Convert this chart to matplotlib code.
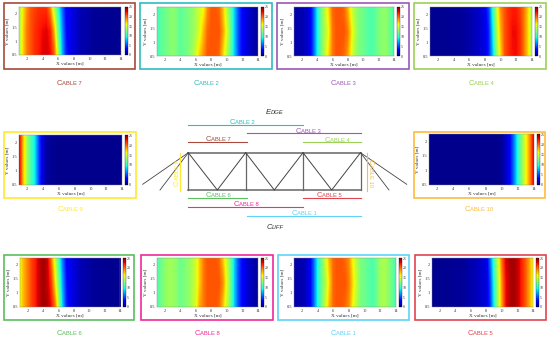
import matplotlib
matplotlib.use("Agg")
import numpy as np
import matplotlib.pyplot as plt

W, H = 550, 339

# measurement stations along the bridge [m]
x_stations = [1, 1.5, 2, 2.5, 3, 3.5, 4, 4.5, 5, 5.5, 6, 6.5, 7, 7.5, 8, 8.5, 9, 9.5, 10, 10.5, 11, 11.5, 12, 12.5, 13, 13.5, 14]
y_stations = [0.5, 1.375, 2.25]

# each cable: rows for y = 0.5, 1.375, 2.25
cable7 = [[13, 17, 19.5, 20.5, 21.5, 22, 22.8, 23, 22.5, 20.5, 14, 8, 4, 2.5, 2, 1.5, 1, 1, .8, .6, .5, .5, .4, .4, .4, .4, .4],
          [13, 17, 19.5, 20.5, 21.5, 22, 22.5, 22.8, 22, 18, 12, 7, 3.5, 2.5, 2, 1.5, 1, 1, .8, .6, .5, .5, .4, .4, .4, .4, .4],
          [13, 16.5, 19, 20.5, 21, 21.5, 21.5, 21.5, 19, 14, 10, 6, 3, 2.5, 2, 1.5, 1, 1, .8, .6, .5, .5, .4, .4, .4, .4, .4]]
cable2 = [[10.5, 11.5, 12, 12.5, 13, 12.5, 11.5, 12, 12.5, 13.5, 15, 17.5, 19, 20.5, 20.5, 20.5, 20, 17, 14, 11.5, 8, 5, 3, 2, 1.5, 1, .5],
          [10.5, 11.5, 12, 12.5, 13, 12.5, 11.5, 12, 12.5, 13, 14, 15.5, 18, 20, 20.5, 20.5, 20.5, 18.5, 15.5, 12, 8, 5, 3, 2, 1.5, 1, .5],
          [10.5, 11.5, 12, 12.5, 13, 12.5, 11.5, 12, 12.5, 13, 14, 15, 16, 19, 20.5, 20.5, 20, 17.5, 14, 11.5, 8, 5, 3, 2, 1.5, 1, .5]]
cable3 = [[1, 1, 1, 1.5, 2, 5, 9, 12, 14.5, 17, 19.5, 20.5, 20.5, 20, 18.5, 15.5, 13.5, 12.5, 12, 11.5, 11, 11.5, 12.5, 13, 13, 12, 10.5],
          [1, 1, 1, 1.5, 2, 5, 9, 12, 14, 16, 19.5, 20.5, 20.5, 20.5, 19.5, 16.5, 14, 12.5, 12, 11.5, 11, 11.5, 12.5, 13, 13, 12, 10.5],
          [1, 1, 1, 1.5, 2, 5, 9, 12, 14.5, 17, 20, 20.5, 20.5, 20, 18, 15, 13.5, 12.5, 12, 11.5, 11, 11.5, 12.5, 13, 13, 12, 10.5]]
cable4 = [[.4, .4, .4, .4, .4, .5, .5, .5, .6, .8, 1, 1.2, 1.5, 1.8, 2.2, 4, 8, 13, 17, 20.5, 21.5, 22.3, 22.5, 21.5, 19.5, 17, 13],
          [.4, .4, .4, .4, .4, .5, .5, .5, .6, .8, 1, 1.2, 1.5, 1.8, 2.2, 4, 9, 14, 18, 20.5, 21.5, 22.5, 22.5, 21.5, 19.5, 17, 13],
          [.4, .4, .4, .4, .4, .5, .5, .5, .6, .8, 1, 1.2, 1.5, 1.8, 2.5, 5, 10, 15, 19, 20.5, 21.5, 22, 22, 21, 19.5, 17, 13]]
cable9 = [[23.5, 18, 13.5, 11, 9, 5, 2, .8, .5, .4, .3, .3, .3, .3, .3, .3, .3, .3, .3, .3, .3, .3, .3, .3, .3, .3, .3],
          [23.5, 18, 13.5, 11, 9, 5, 2, .8, .5, .4, .3, .3, .3, .3, .3, .3, .3, .3, .3, .3, .3, .3, .3, .3, .3, .3, .3],
          [23.5, 18, 13.5, 11, 9, 5, 2, .8, .5, .4, .3, .3, .3, .3, .3, .3, .3, .3, .3, .3, .3, .3, .3, .3, .3, .3, .3]]
cable10 = [[.3, .3, .3, .3, .3, .3, .3, .3, .3, .3, .3, .3, .3, .3, .3, .3, .3, .4, .5, 1.5, 3, 6, 10, 13, 16, 19, 23.5],
           [.3, .3, .3, .3, .3, .3, .3, .3, .3, .3, .3, .3, .3, .3, .3, .3, .3, .4, .5, 1.5, 3, 6, 10, 13, 16, 19, 23.5],
           [.3, .3, .3, .3, .3, .3, .3, .3, .3, .3, .3, .3, .3, .3, .3, .3, .3, .4, .5, 1.5, 3, 6, 10, 13, 16, 19, 23.5]]
cable6 = [[16, 18, 19.5, 21, 22, 23.5, 24.2, 24, 22.5, 20, 14, 8, 4, 2.5, 2, 1.5, 1, 1, .8, .6, .5, .5, .4, .4, .4, .4, .4],
          [16, 18, 19.5, 21, 22, 23.5, 24.2, 23.5, 21.5, 17, 12, 7, 3.5, 2.5, 2, 1.5, 1, 1, .8, .6, .5, .5, .4, .4, .4, .4, .4],
          [16, 18, 19.5, 21, 22, 23.5, 24.2, 23.5, 20, 15, 10.5, 6, 3, 2.5, 2, 1.5, 1, 1, .8, .6, .5, .5, .4, .4, .4, .4, .4]]
cable8 = [[11, 12, 13, 13.5, 13.5, 13, 12, 12.5, 13, 14, 15.5, 18.5, 19.5, 20.5, 20.5, 20.5, 20, 17.5, 14.5, 12, 8, 5, 3, 2, 1.5, 1, .5],
          [11, 12, 13, 13.5, 13.5, 13, 12, 12.5, 13, 14, 15, 17.5, 19.5, 20.5, 20.5, 20.5, 20.5, 19, 15.5, 12, 8, 5, 3, 2, 1.5, 1, .5],
          [11, 12, 13, 13.5, 13.5, 13, 12, 12.5, 13, 14, 15, 17.5, 19.5, 20.5, 20.5, 20.5, 20, 17.5, 14.5, 12, 8, 5, 3, 2, 1.5, 1, .5]]
cable1 = [[1, 1, 1, 1.5, 2.5, 5.5, 9.5, 12, 15, 18, 20, 20.5, 20.5, 20, 19, 16, 14, 12.5, 12, 11.5, 11, 12, 13.5, 14, 13, 12, 10.5],
          [1, 1, 1, 1.5, 2.5, 5.5, 9.5, 12, 14, 17, 20, 20.5, 20.5, 20.5, 19.5, 17, 14.5, 12.5, 12, 11.5, 11, 12, 13.5, 14, 13, 12, 10.5],
          [1, 1, 1, 1.5, 2.5, 5.5, 9.5, 12, 15, 18, 20, 20.5, 20.5, 20, 19, 16, 14, 12.5, 12, 11.5, 11, 12, 13.5, 14, 13, 12, 10.5]]
cable5 = [[.4, .4, .4, .4, .4, .5, .5, .5, .6, .8, 1, 1.2, 1.5, 1.8, 2, 4.5, 9.5, 14, 18.5, 22.5, 23.8, 24.2, 23.5, 22, 20.5, 18.5, 16],
          [.4, .4, .4, .4, .4, .5, .5, .5, .6, .8, 1, 1.2, 1.5, 1.8, 2, 5, 10, 14, 19, 22.5, 23.8, 24.2, 23.5, 22, 20.5, 18.5, 16],
          [.4, .4, .4, .4, .4, .5, .5, .5, .6, .8, 1, 1.2, 1.5, 1.8, 2.2, 6, 11, 15, 20, 23, 24, 24.2, 23.5, 22, 20.5, 18.5, 16]]

x_ticks = [2, 4, 6, 8, 10, 12, 14]
y_ticks = [0.5, 1, 1.5, 2]
cbar_ticks = [0, 5, 10, 15, 20, 25]

# name, data, colour, frame box, heat box, colorbar x range, label centre (all px)
panels = [
    ("7", cable7, "#a8493c", (4, 3, 135, 69), (19, 7, 121, 55), (125, 127.5), (69, 83)),
    ("2", cable2, "#2dbdbd", (140, 3, 272, 69), (157, 7, 258, 56), (261, 264), (206, 83)),
    ("3", cable3, "#9b59b6", (277, 3, 409, 69), (294, 7, 394, 56), (397, 400), (343, 83)),
    ("4", cable4, "#9ccf55", (414, 3, 546, 69), (430, 7, 532, 56), (535, 538), (481, 83)),
    ("9", cable9, "#ffe92e", (4, 132, 136, 198), (19, 135, 122, 185), (125, 128), (70, 209)),
    ("10", cable10, "#fdbb3f", (414, 132, 545, 198), (429, 134, 534, 185), (537, 540), (479, 209)),
    ("6", cable6, "#5cbf60", (4, 255, 134, 320), (20, 258, 120, 307), (123, 126), (69, 333)),
    ("8", cable8, "#f0289a", (141, 255, 273, 320), (157, 258, 258, 307), (261, 264), (207, 333)),
    ("1", cable1, "#5fd3f7", (278, 255, 409, 320), (294, 258, 396, 307), (399, 402), (343, 333)),
    ("5", cable5, "#e0444f", (415, 255, 546, 320), (432, 258, 533, 307), (536, 539), (480, 333)),
]

SERIF = "Liberation Serif"
SANS = "Liberation Sans"

fig = plt.figure(figsize=(W / 100, H / 100), dpi=100)
bg = fig.add_axes([0, 0, 1, 1])
bg.set_xlim(0, W)
bg.set_ylim(H, 0)
bg.axis("off")


def px_axes(x0, y0, x1, y1):
    return fig.add_axes([x0 / W, 1 - y1 / H, (x1 - x0) / W, (y1 - y0) / H])


def small_caps(cx, cy, word, color, size=5.4, rotation=0, style="normal"):
    # big first letter + smaller rest, centred on (cx, cy)
    r = fig.canvas.get_renderer()
    big = bg.text(0, 0, word[0].upper(), fontsize=size, family=SANS, style=style, color=color,
                  ha="left", va="baseline", rotation_mode="anchor")
    small = bg.text(0, 0, word[1:].upper(), fontsize=size * 0.78, family=SANS, style=style, color=color,
                    ha="left", va="baseline", rotation_mode="anchor")
    w1 = big.get_window_extent(r).width
    w2 = small.get_window_extent(r).width
    total = w1 + w2
    a = np.radians(rotation)
    dx, dy = np.cos(a), -np.sin(a)  # y axis is flipped
    sx = cx - dx * total / 2 + np.sin(a) * 2
    sy = cy - dy * total / 2 + np.cos(a) * 2
    big.set_position((sx, sy))
    small.set_position((sx + dx * w1, sy + dy * w1))
    big.set_rotation(rotation)
    small.set_rotation(rotation)


for name, data, color, frame, heat, cbar, lab in panels:
    bg.add_patch(plt.Rectangle((frame[0], frame[1]), frame[2] - frame[0], frame[3] - frame[1],
                               fill=False, ec=color, lw=1.2))
    ax = px_axes(*heat)
    # half a station beyond the ends so the cells line up with the stations
    hx = (x_stations[1] - x_stations[0]) / 2
    hy = (y_stations[1] - y_stations[0]) / 2
    im = ax.imshow(np.array(data), cmap="jet", vmin=0, vmax=25, origin="lower", aspect="auto",
                   interpolation="bilinear",
                   extent=(x_stations[0] - hx, x_stations[-1] + hx, y_stations[0] - hy, y_stations[-1] + hy))
    ax.set_xlim(1, 14)
    ax.set_ylim(0.5, 2.25)
    ax.set_xticks(x_ticks)
    ax.set_yticks(y_ticks)
    ax.set_yticklabels(["0.5", "1", "1.5", "2"])
    ax.tick_params(labelsize=3.2, length=0, pad=1.5, colors="#333333")
    for s in ax.spines.values():
        s.set_linewidth(0.3)
        s.set_color("#888888")
    ax.set_xlabel("X values [m]", fontsize=3.8, labelpad=0.6, color="#333333")
    ax.set_ylabel("Y values [m]", fontsize=3.8, labelpad=1.0, color="#333333")
    for t in ax.get_xticklabels() + ax.get_yticklabels():
        t.set_family(SERIF)
    ax.xaxis.label.set_family(SERIF)
    ax.yaxis.label.set_family(SERIF)

    cax = px_axes(cbar[0], heat[1], cbar[1], heat[3])
    cb = fig.colorbar(im, cax=cax, ticks=cbar_ticks)
    cb.ax.tick_params(labelsize=2.8, length=0, pad=0.8, colors="#333333")
    cb.outline.set_linewidth(0.2)
    for t in cb.ax.get_yticklabels():
        t.set_family(SERIF)

    small_caps(lab[0], lab[1], "Cable " + name, color)

# truss sketch in the middle
truss = "#666666"
top_y, bot_y = 152.7, 190
top_x = [188.3, 245.7, 303, 360.5]
bot_x = [217.3, 274.3, 331.7]
bg.plot([top_x[0], top_x[-1]], [top_y, top_y], color=truss, lw=1.1)
bg.plot([top_x[0], top_x[-1]], [bot_y, bot_y], color=truss, lw=1.1)
for x in top_x:
    bg.plot([x, x], [top_y, bot_y], color=truss, lw=0.9)
for i, x in enumerate(bot_x):
    bg.plot([top_x[i], x, top_x[i + 1]], [top_y, bot_y, top_y], color="#444444", lw=0.7)
for x, y in [(142.7, 184.3), (160, 190)]:
    bg.plot([top_x[0], x], [top_y, y], color="#444444", lw=0.6)
for x, y in [(406.7, 184.3), (389, 190)]:
    bg.plot([top_x[-1], x], [top_y, y], color="#444444", lw=0.6)

# cable runs along the truss: name, colour, x0, x1, line y, label x, label y
runs = [
    ("2", "#2dbdbd", 188.3, 303, 124.7, 241.7, 122),
    ("3", "#9b59b6", 247, 361, 133.3, 308, 130.7),
    ("7", "#a8493c", 188.3, 247, 142.3, 217.7, 138.7),
    ("4", "#9ccf55", 303, 361, 142.3, 336.7, 139.7),
    ("6", "#5cbf60", 188.3, 247, 198.3, 217.7, 195),
    ("5", "#e0444f", 303, 361, 198.3, 329, 195),
    ("8", "#f0289a", 188.3, 303, 207.3, 245.7, 204),
    ("1", "#5fd3f7", 247, 361, 216.3, 304, 212.7),
]
for name, color, x0, x1, y, lx, ly in runs:
    bg.plot([x0, x1], [y, y], color=color, lw=0.8)
    small_caps(lx, ly, "Cable " + name, color)

bg.plot([180.3, 180.3], [152.7, 190.7], color="#ffe92e", lw=0.8)
bg.plot([367.3, 367.3], [152.7, 190.7], color="#fdbb3f", lw=0.8)
small_caps(177, 173, "Cable 9", "#ffe92e", rotation=90)
small_caps(370.7, 173, "Cable 10", "#fdbb3f", rotation=-90)

small_caps(275, 111.7, "Edge", "#333333", size=5.4, style="italic")
small_caps(275, 226.7, "Cliff", "#333333", size=5.4, style="italic")

bg.set_xlim(0, W)
bg.set_ylim(H, 0)
fig.savefig("out.png", dpi=100)
